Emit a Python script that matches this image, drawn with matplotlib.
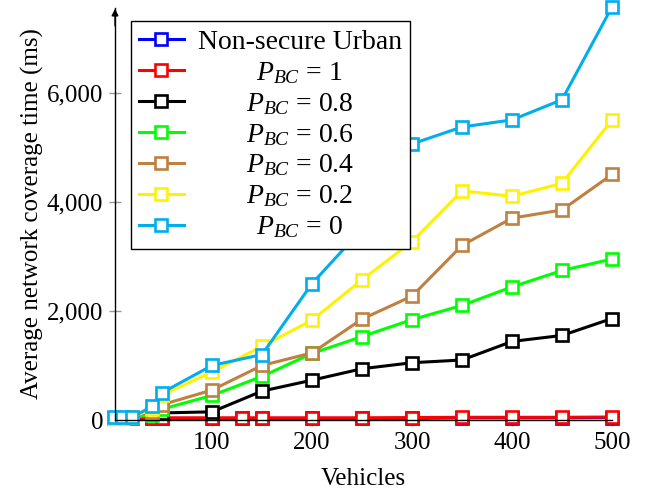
import matplotlib
matplotlib.use('Agg')
import matplotlib.pyplot as plt
from matplotlib.ticker import FuncFormatter

plt.rcParams['font.family'] = 'Liberation Serif'
plt.rcParams['mathtext.fontset'] = 'custom'
plt.rcParams['mathtext.rm'] = 'Liberation Serif'
plt.rcParams['mathtext.it'] = 'Liberation Serif:italic'

vehicles = [2, 10, 20, 40, 50, 100, 150, 200, 250, 300, 350, 400, 450, 500]
vehicles_low = [2, 10, 20, 40, 50, 100, 130, 150, 200, 250, 300, 350, 400, 450, 500]

nonsecure = [30, 30, 30, 30, 30, 30, 30, 30, 30, 30, 30, 40, 40, 40, 45]
pbc_1 = [40, 40, 40, 40, 40, 40, 40, 40, 40, 40, 45, 50, 50, 50, 55]
pbc_08 = [40, 40, 45, 120, 130, 150, 530, 730, 940, 1050, 1100, 1440, 1550, 1860]
pbc_06 = [40, 40, 45, 100, 200, 450, 800, 1220, 1530, 1840, 2100, 2440, 2740, 2950]
pbc_04 = [40, 40, 50, 150, 280, 550, 1000, 1230, 1850, 2270, 3200, 3700, 3850, 4500]
pbc_02 = [40, 40, 50, 200, 460, 880, 1350, 1830, 2570, 3270, 4200, 4100, 4340, 5500]
pbc_0 = [50, 50, 50, 250, 500, 1000, 1200, 2500, 3500, 5060, 5370, 5500, 5870, 7570]

labels = ['Non-secure Urban', r'$P_{BC}$ = 1', r'$P_{BC}$ = 0.8', r'$P_{BC}$ = 0.6',
          r'$P_{BC}$ = 0.4', r'$P_{BC}$ = 0.2', r'$P_{BC}$ = 0']
colors = ['#0000FF', '#FF0000', '#000000', '#00FF00', '#BF8040', '#FFF200', '#00AEEF']

fig = plt.figure(figsize=(6.48, 4.92), dpi=100)
ax = fig.add_axes([0.1775, 0.1463, 0.767, 0.8374])

series = [(vehicles_low, nonsecure), (vehicles_low, pbc_1), (vehicles, pbc_08), (vehicles, pbc_06),
          (vehicles, pbc_04), (vehicles, pbc_02), (vehicles, pbc_0)]
for (xs, ys), lab, c in zip(series, labels, colors):
    ax.plot(xs, ys, '-s', color=c, lw=2.2, ms=8, mfc='white', mec=c, mew=1.9,
            label=lab, clip_on=False)

ax.set_xlim(3, 500)
ax.set_ylim(0, 7550)
ax.set_xticks([100, 200, 300, 400, 500])
ax.set_yticks([0, 2000, 4000, 6000])
ax.yaxis.set_major_formatter(FuncFormatter(lambda v, p: f'{int(v):,}'))
ax.tick_params(direction='inout', length=9, width=1, color='#999999', labelsize=18, pad=4)

for s in ['top', 'right']:
    ax.spines[s].set_visible(False)
ax.spines['left'].set_linewidth(1)
ax.spines['bottom'].set_linewidth(1)
ax.annotate('', xy=(0, 1.005), xytext=(0, 0.95), xycoords='axes fraction',
            arrowprops=dict(arrowstyle='-|>', lw=1, color='black', mutation_scale=10))

ax.set_xlabel('Vehicles', fontsize=18, labelpad=10)
ax.set_ylabel('Average network coverage time (ms)', fontsize=18, labelpad=2)

leg = ax.legend(loc='upper left', bbox_to_anchor=(0.032, 0.968), borderaxespad=0,
                fontsize=20, frameon=True, fancybox=False, edgecolor='black',
                framealpha=1, handlelength=1.6, labelspacing=0.18, borderpad=0.3,
                handletextpad=0.5)
leg.get_frame().set_linewidth(1)

# centre the legend texts like pgfplots does
fig.canvas.draw()
texts = leg.get_texts()
widths = [t.get_window_extent().width for t in texts]
maxw = max(widths)
for t, w in zip(texts, widths):
    t.set_x((maxw - w) / 2)

fig.savefig('out.png', dpi=100)
